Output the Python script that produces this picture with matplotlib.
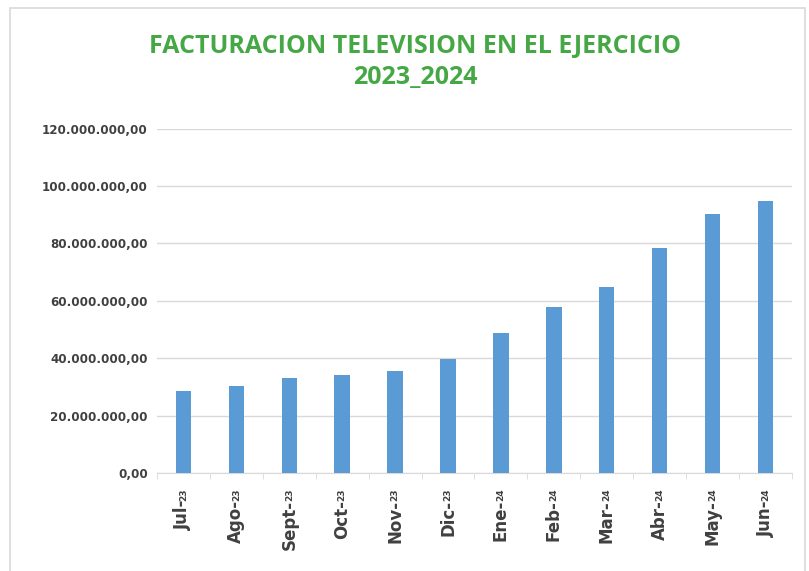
import matplotlib
matplotlib.use("Agg")
import matplotlib.pyplot as plt
from matplotlib.patches import Rectangle
from matplotlib.ticker import FuncFormatter, FixedLocator
import matplotlib.transforms as mtransforms

# ---------------------------- Data -----------------------------------
months = ["Jul-", "Ago-", "Sept-", "Oct-", "Nov-", "Dic-",
          "Ene-", "Feb-", "Mar-", "Abr-", "May-", "Jun-"]
years = ["23", "23", "23", "23", "23", "23",
         "24", "24", "24", "24", "24", "24"]
facturacion = [28.7e6, 30.3e6, 33.2e6, 34.2e6, 35.7e6, 39.8e6,
               48.8e6, 58.0e6, 65.0e6, 78.4e6, 90.2e6, 94.9e6]
y_ticks = [0, 20e6, 40e6, 60e6, 80e6, 100e6, 120e6]

BAR_COLOR = "#5B9BD5"
GRID_COLOR = "#D9D9D9"
TEXT_COLOR = "#404040"
TITLE_COLOR = "#45A845"


def es_format(v, _pos=None):
    s = f"{v:,.2f}"
    return s.replace(",", "X").replace(".", ",").replace("X", ".")


fig = plt.figure(figsize=(8.09, 5.71), dpi=100)
ax = fig.add_axes([0.194, 0.1716, 0.785, 0.603])

x = list(range(len(months)))
ax.bar(x, facturacion, width=0.29, color=BAR_COLOR, zorder=3)

ax.set_xlim(-0.5, len(months) - 0.5)
ax.set_ylim(0, 120e6)
ax.set_yticks(y_ticks)
ax.yaxis.set_major_formatter(FuncFormatter(es_format))
ax.grid(axis="y", color=GRID_COLOR, linewidth=1.0, zorder=0)
ax.tick_params(axis="y", length=0, pad=6.5, labelsize=8.6, labelcolor=TEXT_COLOR)
for lab in ax.get_yticklabels():
    lab.set_fontweight("bold")

for side in ["top", "right", "left"]:
    ax.spines[side].set_visible(False)
ax.spines["bottom"].set_color(GRID_COLOR)
ax.spines["bottom"].set_zorder(1)

# x labels: month big, year small (Excel style)
ax.set_xticks(x)
ax.set_xticklabels([])
ax.tick_params(axis="x", which="major", length=0)
ax.xaxis.set_minor_locator(FixedLocator([i - 0.5 for i in range(len(months) + 1)]))
ax.tick_params(axis="x", which="minor", length=4, color=GRID_COLOR, direction="out")

base = mtransforms.blended_transform_factory(ax.transData, ax.transAxes)
t_year = base + mtransforms.ScaledTranslation(0, -11 / 72, fig.dpi_scale_trans)
t_month = base + mtransforms.ScaledTranslation(0, -19.5 / 72, fig.dpi_scale_trans)
for i, (m, yr) in enumerate(zip(months, years)):
    ax.text(i, 0, yr, transform=t_year, rotation=90, ha="center", va="top",
            fontsize=6.5, fontweight="bold", color=TEXT_COLOR)
    ax.text(i, 0, m, transform=t_month, rotation=90, ha="center", va="top",
            fontsize=12, fontweight="bold", color=TEXT_COLOR)

fig.text(0.513, 0.891, "FACTURACION TELEVISION EN EL EJERCICIO\n2023_2024",
         ha="center", va="center", fontsize=18, fontweight="bold",
         color=TITLE_COLOR, family=["Open Sans", "DejaVu Sans"], linespacing=1.3)

# light frame around the chart area (bottom edge runs off the picture)
fig.patches.append(Rectangle((10 / 809, -0.02), 795 / 809, 1.006,
                             transform=fig.transFigure, fill=False,
                             edgecolor="#D9D9D9", linewidth=1.2))

fig.savefig("out.png", dpi=100)
